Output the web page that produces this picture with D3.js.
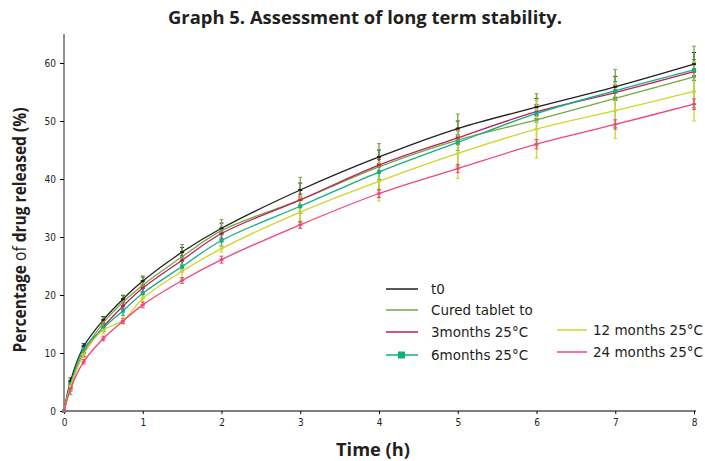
<!doctype html>
<html>
<head>
<meta charset="utf-8">
<style>
    body { margin: 0; background: #fff; }
    svg { display: block; }
    text.title { font-family: 'Open Sans', sans-serif; font-weight: 700; font-size: 18px; fill: #231f20; }
    text.label { font-family: 'Open Sans', sans-serif; font-weight: 700; font-size: 18px; fill: #231f20; }
    .axis text { font-family: 'Liberation Sans Narrow', 'DejaVu Sans Condensed', sans-serif; font-size: 10px; fill: #231f20; }
    .legend text { font-family: 'DejaVu Sans', sans-serif; font-size: 13.5px; fill: #231f20; }
</style>
<script src="https://cdn.jsdelivr.net/npm/d3@7"></script>
</head>
<body>
<svg width="705" height="461"></svg>
<script>
// sampling times (h)
const times = [0, 0.083, 0.25, 0.5, 0.75, 1, 1.5, 2, 3, 4, 5, 6, 7, 8];

// release (%) per batch
const t0Vals     = [0, 5.2, 11.1, 15.7, 19.3, 22.4, 27.4, 31.5, 38.1, 43.8, 48.7, 52.4, 55.9, 59.8];
const curedVals  = [0, 4.0, 10.2, 15.2, 18.8, 21.7, 26.6, 31.1, 36.4, 42.1, 46.7, 50.2, 53.9, 57.6];
const m3Vals     = [0, 4.5, 9.9, 14.5, 18.1, 21.2, 26.0, 30.6, 36.4, 42.4, 47.1, 51.6, 54.9, 58.5];
const m6Vals     = [0, 4.6, 10.7, 14.3, 17.3, 20.3, 24.9, 29.4, 35.3, 41.2, 46.3, 51.3, 55.2, 58.8];
const m12Vals    = [0, 4.3, 9.8, 14.0, 15.6, 19.4, 24.1, 28.0, 34.3, 39.6, 44.4, 48.6, 51.8, 55.1];
const m24Vals    = [0, 3.8, 8.5, 12.5, 15.5, 18.3, 22.5, 26.1, 32.1, 37.5, 41.8, 46.0, 49.4, 52.9];

// standard deviations (error bars)
const t0Sd    = [0, 0.5, 0.5, 0.6, 0.6, 0.7, 0.8, 0.9, 1.2, 1.2, 1.3, 1.5, 1.8, 2.0];
const curedSd = [0, 1.2, 0.8, 1.0, 1.2, 1.6, 2.1, 1.9, 3.9, 4.0, 4.5, 4.5, 5.0, 5.3];
const m3Sd    = [0, 0.4, 0.5, 0.5, 0.6, 0.6, 0.8, 0.8, 1.0, 1.0, 1.2, 1.2, 1.3, 1.5];
const m6Sd    = [0, 0.5, 0.6, 0.6, 0.8, 0.8, 0.9, 1.0, 1.2, 1.3, 1.4, 1.5, 1.6, 1.8];
const m12Sd   = [0, 0.6, 0.6, 0.7, 0.6, 1.0, 1.2, 0.6, 2.8, 3.4, 4.3, 5.0, 4.8, 5.1];
const m24Sd   = [0, 0.4, 0.4, 0.4, 0.4, 0.5, 0.5, 0.6, 0.6, 0.7, 0.7, 0.8, 0.8, 0.9];

const seriesNames = ['t0', 'Cured tablet to', '3months 25°C', '6months 25°C', '12 months 25°C', '24 months 25°C'];
const xTicks = [0, 1, 2, 3, 4, 5, 6, 7, 8];
const yTicks = [0, 10, 20, 30, 40, 50, 60];

const colors = ['#231f20', '#72a940', '#c01e5c', '#14ad84', '#cfd62a', '#f0457a'];
const series = [
    { name: seriesNames[0], vals: t0Vals, sd: t0Sd },
    { name: seriesNames[1], vals: curedVals, sd: curedSd },
    { name: seriesNames[2], vals: m3Vals, sd: m3Sd },
    { name: seriesNames[3], vals: m6Vals, sd: m6Sd },
    { name: seriesNames[4], vals: m12Vals, sd: m12Sd },
    { name: seriesNames[5], vals: m24Vals, sd: m24Sd }
];
series.forEach((s, i) => s.color = colors[i]);

const svg = d3.select('svg');

const x = d3.scaleLinear().domain([0, 8]).range([64, 694]);
const y = d3.scaleLinear().domain([0, 65]).range([411, 34]);

// title
svg.append('text')
    .attr('class', 'title')
    .attr('x', 365)
    .attr('y', 24)
    .attr('text-anchor', 'middle')
    .attr('textLength', 394)
    .attr('lengthAdjust', 'spacingAndGlyphs')
    .text('Graph 5. Assessment of long term stability.');

// axes
const yAxis = svg.append('g')
    .attr('class', 'axis')
    .attr('transform', `translate(${x(0)},0)`)
    .call(d3.axisLeft(y).tickValues(yTicks).tickSize(4).tickPadding(4));
yAxis.select('.domain').attr('d', `M0,${y(0)}V${y(65)}`).attr('stroke', '#231f20');

const xAxis = svg.append('g')
    .attr('class', 'axis')
    .attr('transform', `translate(0,${y(0)})`)
    .call(d3.axisBottom(x).tickValues(xTicks).tickSize(3).tickPadding(5));
xAxis.select('.domain').attr('d', `M${x(0)},0H${x(8) + 2}`).attr('stroke', '#555').attr('stroke-width', 1.5);

// error bars
series.forEach(s => {
    const g = svg.append('g');
    times.forEach((t, i) => {
        if (s.sd[i] <= 0) return;
        const cx = x(t), y1 = y(s.vals[i] + s.sd[i]), y2 = y(s.vals[i] - s.sd[i]);
        g.append('line').attr('x1', cx).attr('x2', cx).attr('y1', y1).attr('y2', y2)
            .attr('stroke', s.color).attr('stroke-width', 1.3);
        [y1, y2].forEach(yy => g.append('line')
            .attr('x1', cx - 2).attr('x2', cx + 2).attr('y1', yy).attr('y2', yy)
            .attr('stroke', s.color).attr('stroke-width', 1));
    });
});

// curves
const line = d3.line()
    .x((d, i) => x(times[i]))
    .y(d => y(d))
    .curve(d3.curveCatmullRom.alpha(0.5));

series.forEach((s, k) => {
    svg.append('path')
        .attr('d', line(s.vals))
        .attr('fill', 'none')
        .attr('stroke', s.color)
        .attr('stroke-width', 1.3);
    svg.append('g').selectAll('rect')
        .data(s.vals)
        .join('rect')
        .attr('x', (d, i) => x(times[i]) - 2)
        .attr('y', d => y(d) - (k === 3 ? 2 : 1))
        .attr('width', 4)
        .attr('height', k === 3 ? 4 : 2)
        .attr('fill', s.color);
});

// axis labels
svg.append('text')
    .attr('class', 'label')
    .attr('x', 373)
    .attr('y', 456)
    .attr('text-anchor', 'middle')
    .attr('textLength', 74)
    .attr('lengthAdjust', 'spacingAndGlyphs')
    .text('Time (h)');

const yl = svg.append('text')
    .attr('class', 'label')
    .attr('transform', 'translate(26,230) rotate(-90)')
    .attr('text-anchor', 'middle')
    .attr('textLength', 245)
    .attr('lengthAdjust', 'spacingAndGlyphs');
yl.append('tspan').text('Percentage ');
yl.append('tspan').attr('font-weight', 400).text('of');
yl.append('tspan').text(' drug released (%)');

// legend
const legendPos = [[386, 289], [386, 310], [386, 332], [386, 355], [557, 330], [557, 352]];
const legend = svg.append('g').attr('class', 'legend');
series.forEach((s, i) => {
    const [lx, ly] = legendPos[i];
    const w = i < 4 ? 32 : 30;
    legend.append('line')
        .attr('x1', lx).attr('x2', lx + w).attr('y1', ly).attr('y2', ly)
        .attr('stroke', s.color).attr('stroke-width', 1.5);
    if (i === 3) {
        legend.append('rect').attr('x', lx + 12).attr('y', ly - 3.5)
            .attr('width', 7).attr('height', 7).attr('fill', '#10b07a');
    }
    legend.append('text')
        .attr('x', lx + w + (i < 4 ? 13 : 6))
        .attr('y', ly)
        .attr('dy', '0.35em')
        .text(s.name);
});
</script>
</body>
</html>
